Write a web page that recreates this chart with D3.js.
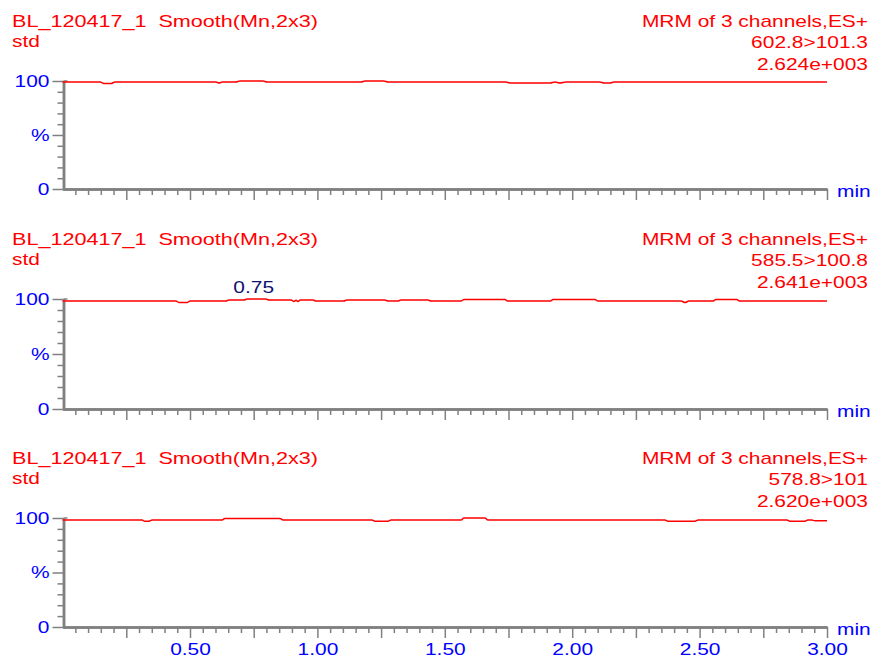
<!DOCTYPE html>
<html>
<head>
<meta charset="utf-8">
<script src="https://cdn.jsdelivr.net/npm/d3@7"></script>
<style>
  body { margin: 0; background: #fff; }
  svg { display: block; }
  text { font-family: "Liberation Sans", Arial, sans-serif; font-size: 17px; white-space: pre; }
</style>
</head>
<body>
<script>
// chromatogram headers
const sampleTitle = "BL_120417_1  Smooth(Mn,2x3)";
const sampleName = "std";
const scanHeader = "MRM of 3 channels,ES+";
const transitions = ["602.8>101.3", "585.5>100.8", "578.8>101"];
const intensities = ["2.624e+003", "2.641e+003", "2.620e+003"];
const peakLabels = [null, 0.75, null];

// x axis ticks (min)
const xMinorTicks = d3.range(1, 61).map(i => i * 0.05).filter(v => Math.round(v * 100) % 25 !== 0);
const xMajorTicks = [0.25, 0.5, 0.75, 1, 1.25, 1.5, 1.75, 2, 2.25, 2.5, 2.75, 3];
const xLabelTicks = [0.5, 1, 1.5, 2, 2.5, 3];
const yMinorTicks = [10, 20, 30, 40, 60, 70, 80, 90];
const yMajorTicks = [0, 50, 100];
const yLabels = {0: "0", 50: "%", 100: "100"};

// traces (relative intensity %)
const p1Time = [0, 0.147, 0.162, 0.19, 0.206, 0.602, 0.614, 0.626, 0.68, 0.696, 0.787, 0.802, 1.171, 1.187, 1.261, 1.277, 1.74, 1.756, 1.913, 1.932, 1.952, 1.975, 2.109, 2.125, 2.149, 2.164, 3.0];
const p1Value = [99.1, 99.1, 97.7, 97.7, 99.1, 99.1, 98.2, 99.1, 99.1, 100, 100, 99.1, 99.1, 100, 100, 99.1, 99.1, 98.2, 98.2, 99.1, 98.2, 99.1, 99.1, 98.2, 98.2, 99.1, 99.1];

const p2Time = [0, 0.445, 0.457, 0.489, 0.5, 0.641, 0.653, 0.712, 0.724, 0.798, 0.81, 0.897, 0.908, 0.916, 0.924, 0.932, 0.983, 0.994, 1.104, 1.116, 1.265, 1.277, 1.316, 1.328, 1.434, 1.446, 1.564, 1.575, 1.736, 1.748, 1.913, 1.925, 2.09, 2.101, 2.427, 2.443, 2.458, 2.552, 2.564, 2.646, 2.658, 3.0];
const p2Value = [98.2, 98.2, 96.8, 96.8, 98.2, 98.2, 99.1, 99.1, 100, 100, 99.1, 99.1, 97.7, 98.8, 97.7, 99.1, 99.1, 98.2, 98.2, 99.1, 99.1, 98.2, 98.2, 99.1, 99.1, 98.2, 98.2, 99.5, 99.5, 98.2, 98.2, 99.5, 99.5, 98.2, 98.2, 96.8, 98.2, 98.2, 99.5, 99.5, 98.2, 98.2];

const p3Time = [0, 0.312, 0.32, 0.339, 0.351, 0.626, 0.637, 0.853, 0.865, 1.214, 1.226, 1.277, 1.289, 1.564, 1.575, 1.658, 1.669, 2.364, 2.376, 2.482, 2.494, 2.843, 2.854, 2.913, 2.925, 2.94, 2.953, 3.0];
const p3Value = [98.2, 98.2, 97.1, 97.1, 98.2, 98.2, 99.6, 99.6, 98.2, 98.2, 97.1, 97.1, 98.2, 98.2, 100, 100, 98.2, 98.2, 97.1, 97.1, 98.2, 98.2, 97.1, 97.1, 98.2, 98.2, 97.5, 97.5];

const traces = [[p1Time, p1Value], [p2Time, p2Value], [p3Time, p3Value]];

const width = 875, height = 659;
const panelTop = [81, 299, 518];
const panelBottom = [189, 409, 627];
const RED = "#ff0000", BLUE = "#0000ff", GRAY = "#808080";
const STRETCH = 1.23;

const svg = d3.select("body").append("svg")
  .attr("width", width)
  .attr("height", height);

const x = d3.scaleLinear().domain([0, 3]).range([62.6, 827]);

// widen text a bit, the original font is broader than Arial
function stretch(sel, target) {
  sel.each(function() {
    const len = target || this.getComputedTextLength() * STRETCH;
    d3.select(this).attr("textLength", len).attr("lengthAdjust", "spacingAndGlyphs");
  });
}

function styleAxis(g, w) {
  g.select(".domain").attr("stroke", GRAY).attr("stroke-width", w);
  g.selectAll(".tick line").attr("stroke", GRAY).attr("stroke-width", 1.5);
}

traces.forEach(([times, values], i) => {
  const top = panelTop[i], bottom = panelBottom[i];
  const y = d3.scaleLinear().domain([0, 100]).range([bottom, top]);
  const g = svg.append("g");

  // headers
  g.append("text").attr("x", 12).attr("y", top - 54).attr("fill", RED).text(sampleTitle).call(stretch, 306);
  g.append("text").attr("x", 12).attr("y", top - 34).attr("fill", RED).text(sampleName).call(stretch);
  g.append("text").attr("x", 868).attr("y", top - 54).attr("text-anchor", "end").attr("fill", RED).text(scanHeader).call(stretch);
  g.append("text").attr("x", 868).attr("y", top - 33).attr("text-anchor", "end").attr("fill", RED).text(transitions[i]).call(stretch);
  g.append("text").attr("x", 868).attr("y", top - 11).attr("text-anchor", "end").attr("fill", RED).text(intensities[i]).call(stretch);

  // x axis
  const xg = g.append("g").attr("transform", `translate(0,${bottom})`);
  xg.append("g").call(d3.axisBottom(x).tickValues(xMinorTicks).tickSize(6).tickSizeOuter(0).tickFormat(""))
    .call(a => styleAxis(a, 2.5));
  const xm = xg.append("g").call(d3.axisBottom(x).tickValues(xMajorTicks).tickSize(11).tickSizeOuter(0).tickPadding(5)
      .tickFormat(d => (i === 2 && xLabelTicks.includes(d)) ? d3.format(".2f")(d) : ""))
    .call(a => styleAxis(a, 2.5));
  xm.selectAll("text").attr("fill", BLUE).style("font-size", "17px").style("font-family", null).call(stretch);
  xg.append("text").attr("x", 837).attr("y", 8).attr("fill", BLUE).text("min").call(stretch);

  // y axis
  const yg = g.append("g").attr("transform", "translate(63.5,0)");
  yg.append("g").call(d3.axisLeft(y).tickValues(yMinorTicks).tickSize(6).tickSizeOuter(0).tickFormat(""))
    .call(a => styleAxis(a, 2.5));
  const ym = yg.append("g").call(d3.axisLeft(y).tickValues(yMajorTicks).tickSize(11).tickSizeOuter(0).tickPadding(3)
      .tickFormat(d => yLabels[d]))
    .call(a => styleAxis(a, 2.5));
  ym.selectAll("text").attr("fill", BLUE).style("font-size", "17px").style("font-family", null).call(stretch);
  yg.append("line").attr("x1", 0).attr("x2", 4).attr("y1", y(100)).attr("y2", y(100))
    .attr("stroke", GRAY).attr("stroke-width", 1.5);

  // trace
  const line = d3.line().x(d => x(d[0])).y(d => y(d[1])).curve(d3.curveMonotoneX);
  g.append("path")
    .datum(d3.zip(times, values))
    .attr("d", line)
    .attr("fill", "none")
    .attr("stroke", RED)
    .attr("stroke-width", 1.5);

  if (peakLabels[i] != null) {
    g.append("text")
      .attr("x", x(peakLabels[i]))
      .attr("y", top - 6)
      .attr("text-anchor", "middle")
      .attr("fill", "#10106e")
      .text(d3.format(".2f")(peakLabels[i]))
      .call(stretch);
  }
});
</script>
</body>
</html>
